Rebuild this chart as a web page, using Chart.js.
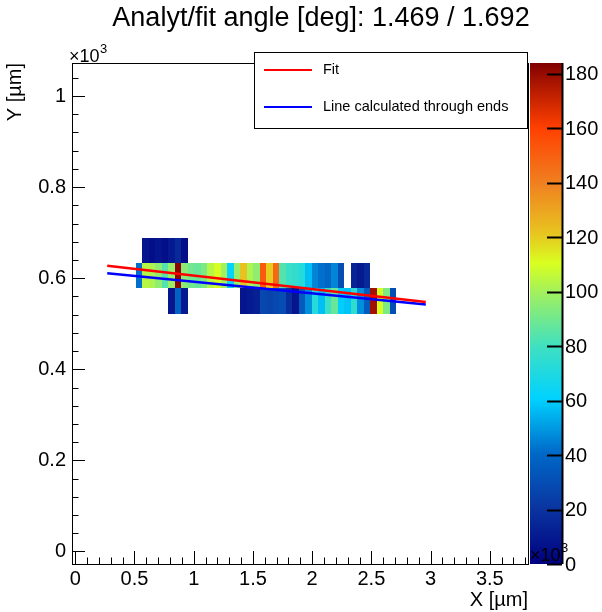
<!DOCTYPE html>
<html lang="en">
<head>
    <meta charset="UTF-8">
    <title>Analyt/fit angle</title>
    <script src="https://cdn.jsdelivr.net/npm/chart.js@4.4.0/dist/chart.umd.min.js"></script>
    <style>
        html, body {
            margin: 0;
            padding: 0;
            background: #fff;
        }
        #wrap {
            width: 602px;
            height: 612px;
        }
    </style>
</head>
<body>
    <div id="wrap"><canvas id="chart" width="602" height="612"></canvas></div>

    <script>
        // bin centres of the 2D histogram [um]
        const colX = [539, 594, 649, 704, 759, 814, 869, 924, 979, 1034,
                      1089, 1144, 1199, 1254, 1309, 1364, 1419, 1474, 1529, 1584,
                      1639, 1694, 1749, 1804, 1859, 1914, 1969, 2024, 2079, 2134,
                      2189, 2244, 2299, 2354, 2409, 2464, 2519, 2574, 2629, 2684];
        const rowY = [550, 605, 660];

        // counts per row, one value per column (0 = empty bin)
        const counts550 = [0, 0, 0, 0, 0, 8, 38, 10, 0, 0,
                           0, 0, 0, 0, 0, 0, 8, 10, 12, 28,
                           26, 28, 30, 18, 8, 35, 48, 72, 57, 78,
                           88, 60, 58, 75, 48, 36, 178, 110, 92, 30];
        const counts605 = [42, 104, 102, 96, 84, 98, 182, 95, 90, 88,
                           92, 104, 110, 100, 62, 98, 122, 102, 96, 152,
                           120, 148, 84, 78, 76, 72, 57, 46, 42, 40,
                           46, 30, 0, 14, 10, 16, 0, 0, 0, 0];
        const counts660 = [0, 8, 6, 8, 6, 10, 16, 6, 0, 0,
                           0, 0, 0, 0, 0, 0, 0, 0, 0, 0,
                           0, 0, 0, 0, 0, 0, 0, 0, 0, 0,
                           0, 0, 0, 0, 0, 0, 0, 0, 0, 0];
        const rowCounts = [counts550, counts605, counts660];

        // the two lines
        const fitX = [270, 2960];
        const fitY = [627.5, 548];
        const endsX = [270, 2960];
        const endsY = [611, 542];

        const xTicks = [0, 500, 1000, 1500, 2000, 2500, 3000, 3500];
        const yTicks = [0, 200, 400, 600, 800, 1000];
        const zTicks = [0, 20, 40, 60, 80, 100, 120, 140, 160, 180];
        const zMax = 184;
        const BIN = 55;

        const FONT = '"Liberation Sans", Arial, Helvetica, sans-serif';

        // rainbow palette stops (fraction, colour)
        const stops = [
            [0.00, [0, 0, 128]],
            [0.11, [10, 52, 160]],
            [0.22, [0, 104, 200]],
            [0.33, [0, 210, 255]],
            [0.435, [64, 224, 192]],
            [0.54, [160, 240, 96]],
            [0.60, [216, 255, 32]],
            [0.66, [232, 196, 32]],
            [0.76, [240, 128, 32]],
            [0.87, [255, 64, 0]],
            [0.97, [160, 16, 0]],
            [1.00, [128, 0, 0]]
        ];

        function colorFor(v) {
            const f = Math.min(Math.max(v / zMax, 0), 1);
            for (let i = 1; i < stops.length; i++) {
                if (f <= stops[i][0]) {
                    const [f0, c0] = stops[i - 1];
                    const [f1, c1] = stops[i];
                    const t = (f - f0) / (f1 - f0);
                    const c = c0.map((a, k) => Math.round(a + (c1[k] - a) * t));
                    return `rgb(${c[0]},${c[1]},${c[2]})`;
                }
            }
            return 'rgb(128,0,0)';
        }

        const heatmap = {
            id: 'heatmap',
            beforeDatasetsDraw(chart) {
                const {ctx, scales: {x, y}} = chart;
                ctx.save();
                rowCounts.forEach((counts, r) => {
                    const yTop = Math.round(y.getPixelForValue(rowY[r] + BIN / 2));
                    const yBot = Math.round(y.getPixelForValue(rowY[r] - BIN / 2));
                    counts.forEach((v, i) => {
                        if (!v) return;
                        const x0 = Math.round(x.getPixelForValue(colX[i] - BIN / 2));
                        const x1 = Math.round(x.getPixelForValue(colX[i] + BIN / 2));
                        ctx.fillStyle = colorFor(v);
                        ctx.fillRect(x0, yTop, x1 - x0, yBot - yTop);
                    });
                });
                ctx.restore();
            }
        };

        // ROOT style frame with inward ticks
        const frame = {
            id: 'frame',
            afterDatasetsDraw(chart) {
                const {ctx, chartArea: a, scales: {x, y}} = chart;
                ctx.save();
                ctx.strokeStyle = '#000';
                ctx.lineWidth = 1;
                ctx.strokeRect(a.left + 0.5, a.top + 0.5, a.right - a.left, a.bottom - a.top);
                ctx.beginPath();
                for (let v = 0; v <= x.max; v += 100) {
                    const px = Math.round(x.getPixelForValue(v)) + 0.5;
                    const len = v % 500 === 0 ? 13 : 6.5;
                    ctx.moveTo(px, a.bottom);
                    ctx.lineTo(px, a.bottom - len);
                }
                for (let v = 0; v <= y.max; v += 40) {
                    const py = Math.round(y.getPixelForValue(v)) + 0.5;
                    const len = v % 200 === 0 ? 13 : 6.5;
                    ctx.moveTo(a.left, py);
                    ctx.lineTo(a.left + len, py);
                }
                ctx.stroke();

                // exponent of the y axis
                ctx.fillStyle = '#000';
                ctx.textBaseline = 'middle';
                ctx.textAlign = 'left';
                ctx.font = '18px ' + FONT;
                ctx.fillText('\u00d710', 69, 57);
                ctx.font = '13px ' + FONT;
                ctx.fillText('3', 100, 49);
                ctx.restore();
            }
        };

        const extras = {
            id: 'extras',
            afterDraw(chart) {
                const {ctx, chartArea: a} = chart;
                ctx.save();

                // title
                ctx.fillStyle = '#000';
                ctx.font = '27px ' + FONT;
                ctx.textAlign = 'center';
                ctx.textBaseline = 'middle';
                ctx.fillText('Analyt/fit angle [deg]: 1.469 / 1.692', 321, 19);

                // legend box
                ctx.fillStyle = '#fff';
                ctx.fillRect(254, 52, 273, 76);
                ctx.strokeStyle = '#000';
                ctx.lineWidth = 1;
                ctx.strokeRect(254.5, 52.5, 273, 76);
                ctx.font = '14.5px ' + FONT;
                ctx.textAlign = 'left';
                chart.data.datasets.forEach((ds, i) => {
                    const ly = i === 0 ? 70 : 107;
                    ctx.strokeStyle = ds.borderColor;
                    ctx.lineWidth = 2;
                    ctx.beginPath();
                    ctx.moveTo(264, ly);
                    ctx.lineTo(312, ly);
                    ctx.stroke();
                    ctx.fillStyle = '#000';
                    ctx.fillText(ds.label, 323, ly);
                });

                // colour palette
                const pl = 530, pr = 562;
                const grad = ctx.createLinearGradient(0, a.bottom, 0, a.top);
                stops.forEach(([f, c]) => grad.addColorStop(f, `rgb(${c[0]},${c[1]},${c[2]})`));
                ctx.fillStyle = grad;
                ctx.fillRect(pl, a.top, pr - pl, a.bottom - a.top);
                ctx.strokeStyle = '#000';
                ctx.beginPath();
                ctx.moveTo(pr + 0.5, a.top);
                ctx.lineTo(pr + 0.5, a.bottom);
                const zp = v => a.bottom - v / zMax * (a.bottom - a.top);
                zTicks.forEach(v => {
                    const py = Math.round(zp(v)) + 0.5;
                    ctx.moveTo(pr, py);
                    ctx.lineTo(pr - 15, py);
                });
                ctx.stroke();
                ctx.fillStyle = '#000';
                ctx.font = '20px ' + FONT;
                zTicks.forEach(v => ctx.fillText(String(v), pr + 3, zp(v) + 1));

                // exponent of the x axis, drawn over the palette as in the original
                ctx.font = '18px ' + FONT;
                ctx.fillText('\u00d710', 530, 556);
                ctx.font = '13px ' + FONT;
                ctx.fillText('3', 561, 548);
                ctx.restore();
            }
        };

        const tickFont = {family: FONT, size: 20};

        new Chart(document.getElementById('chart'), {
            type: 'scatter',
            data: {
                datasets: [{
                    label: 'Fit',
                    data: fitX.map((v, i) => ({x: v, y: fitY[i]})),
                    showLine: true,
                    borderColor: '#ff0000',
                    borderWidth: 2.5,
                    pointRadius: 0
                }, {
                    label: 'Line calculated through ends',
                    data: endsX.map((v, i) => ({x: v, y: endsY[i]})),
                    showLine: true,
                    borderColor: '#0000ff',
                    borderWidth: 2.5,
                    pointRadius: 0
                }]
            },
            options: {
                responsive: false,
                animation: false,
                devicePixelRatio: 1,
                layout: {padding: {top: 63, right: 74, bottom: 0, left: 0}},
                plugins: {
                    legend: {display: false},
                    tooltip: {enabled: false}
                },
                scales: {
                    x: {
                        type: 'linear',
                        min: -27.5,
                        max: 3822.5,
                        afterBuildTicks: s => { s.ticks = xTicks.map(v => ({value: v})); },
                        afterFit: s => { s.height = 48; },
                        ticks: {
                            callback: v => String(v / 1000),
                            font: tickFont,
                            color: '#000',
                            padding: 3,
                            maxRotation: 0,
                            autoSkip: false
                        },
                        grid: {display: false, drawTicks: false},
                        border: {display: false},
                        title: {
                            display: true,
                            text: 'X [\u00b5m]',
                            align: 'end',
                            color: '#000',
                            font: {family: FONT, size: 20},
                            padding: {top: 0, bottom: 0}
                        }
                    },
                    y: {
                        type: 'linear',
                        min: -27.5,
                        max: 1072.5,
                        afterBuildTicks: s => { s.ticks = yTicks.map(v => ({value: v})); },
                        afterFit: s => { s.width = 72; },
                        ticks: {
                            callback: v => String(v / 1000),
                            font: tickFont,
                            color: '#000',
                            padding: 6,
                            autoSkip: false
                        },
                        grid: {display: false, drawTicks: false},
                        border: {display: false},
                        title: {
                            display: true,
                            text: 'Y [\u00b5m]',
                            align: 'end',
                            color: '#000',
                            font: {family: FONT, size: 20},
                            padding: {top: 3, bottom: 0}
                        }
                    }
                }
            },
            plugins: [heatmap, frame, extras]
        });
    </script>
</body>
</html>
